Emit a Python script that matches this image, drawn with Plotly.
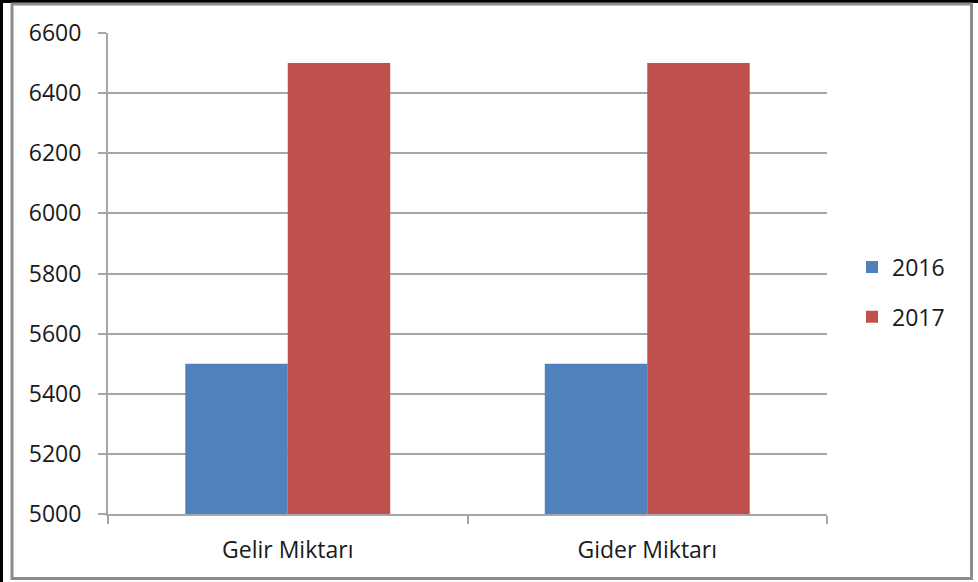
import plotly.graph_objects as go

categories = ["Gelir Miktarı", "Gider Miktarı"]
series_names = ["2016", "2017"]
values_2016 = [5500, 5500]
values_2017 = [6500, 6500]
colors = ["#4F81BD", "#C0504D"]
y_ticks = [5000, 5200, 5400, 5600, 5800, 6000, 6200, 6400, 6600]

W, H = 978, 582
L, R, T, B = 108, 827, 33, 514

def px(x):
    return (x - L) / (R - L)

def py(y):
    return (B - y) / (B - T)

font = dict(family="Open Sans, Liberation Sans, Arial", size=23, color="#1a1a1a")
axis_gray = "#a6a6a6"

fig = go.Figure()
for name, vals, col in zip(series_names, [values_2016, values_2017], colors):
    fig.add_trace(go.Bar(x=categories, y=vals, name=name, marker_color=col,
                         marker_line_width=0, legendgroup=name))

fig.update_layout(
    width=W, height=H,
    margin=dict(l=L, r=W - R, t=T, b=H - B, pad=0),
    paper_bgcolor="white", plot_bgcolor="white",
    barmode="group", bargap=0.43, bargroupgap=0,
    font=font,
    showlegend=True,
    legend=dict(x=px(852), y=py(292), xanchor="left", yanchor="middle",
                traceorder="grouped", tracegroupgap=17, font=font,
                bgcolor="rgba(0,0,0,0)"),
    xaxis=dict(showgrid=False, showline=True, linecolor=axis_gray, linewidth=2,
               ticks="outside", tickson="boundaries", ticklen=8, tickcolor=axis_gray,
               tickwidth=2, tickfont=font, ticklabelstandoff=14),
    yaxis=dict(range=[5000, 6600], tickvals=y_ticks, showgrid=True, gridcolor=axis_gray,
               gridwidth=2, showline=True, linecolor=axis_gray, linewidth=2,
               ticks="outside", ticklen=8, tickcolor=axis_gray, tickwidth=2,
               tickfont=font, zeroline=False, ticklabelstandoff=12),
)

# outer frame: black edges at left/top, gray border rectangle
fig.add_shape(type="line", xref="paper", yref="paper", x0=px(1.5), x1=px(1.5), y0=py(0), y1=py(H),
              line=dict(color="black", width=3))
fig.add_shape(type="line", xref="paper", yref="paper", x0=px(0), x1=px(W), y0=py(1.5), y1=py(1.5),
              line=dict(color="black", width=3))
fig.add_shape(type="rect", xref="paper", yref="paper", x0=px(12), x1=px(971.5), y0=py(4), y1=py(578.5),
              line=dict(color="#8c8c8c", width=3))

fig.write_html("out.html", config={"displayModeBar": False},
               post_script="document.body.style.margin='0px';document.body.style.overflow='hidden';")
